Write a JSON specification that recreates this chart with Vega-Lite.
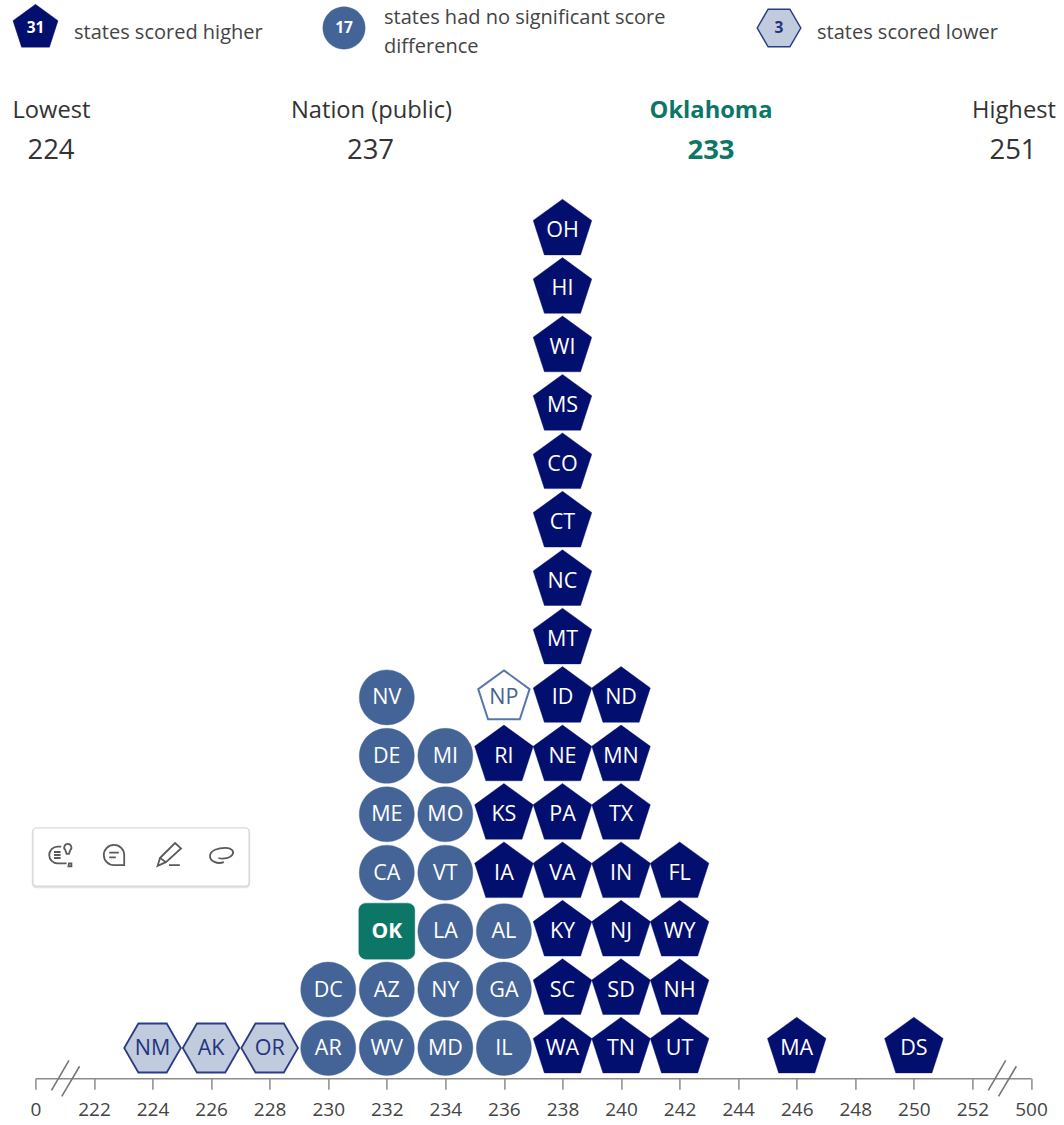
{"$schema":"https://vega.github.io/schema/vega-lite/v6.json","width":995.6,"height":1078.3,"autosize":"none","padding":{"left":35.4,"top":0,"right":33,"bottom":46.7},"background":"white","view":{"stroke":null},"config":{"font":"Open Sans"},
"datasets":{
"states":[
{"state":"NM","score":224,"row":1,"group":"lower"},{"state":"AK","score":226,"row":1,"group":"lower"},{"state":"OR","score":228,"row":1,"group":"lower"},
{"state":"AR","score":230,"row":1,"group":"same"},{"state":"DC","score":230,"row":2,"group":"same"},
{"state":"WV","score":232,"row":1,"group":"same"},{"state":"AZ","score":232,"row":2,"group":"same"},{"state":"OK","score":232,"row":3,"group":"focal"},{"state":"CA","score":232,"row":4,"group":"same"},{"state":"ME","score":232,"row":5,"group":"same"},{"state":"DE","score":232,"row":6,"group":"same"},{"state":"NV","score":232,"row":7,"group":"same"},
{"state":"MD","score":234,"row":1,"group":"same"},{"state":"NY","score":234,"row":2,"group":"same"},{"state":"LA","score":234,"row":3,"group":"same"},{"state":"VT","score":234,"row":4,"group":"same"},{"state":"MO","score":234,"row":5,"group":"same"},{"state":"MI","score":234,"row":6,"group":"same"},
{"state":"IL","score":236,"row":1,"group":"same"},{"state":"GA","score":236,"row":2,"group":"same"},{"state":"AL","score":236,"row":3,"group":"same"},{"state":"IA","score":236,"row":4,"group":"higher"},{"state":"KS","score":236,"row":5,"group":"higher"},{"state":"RI","score":236,"row":6,"group":"higher"},{"state":"NP","score":236,"row":7,"group":"nation"},
{"state":"WA","score":238,"row":1,"group":"higher"},{"state":"SC","score":238,"row":2,"group":"higher"},{"state":"KY","score":238,"row":3,"group":"higher"},{"state":"VA","score":238,"row":4,"group":"higher"},{"state":"PA","score":238,"row":5,"group":"higher"},{"state":"NE","score":238,"row":6,"group":"higher"},{"state":"ID","score":238,"row":7,"group":"higher"},{"state":"MT","score":238,"row":8,"group":"higher"},{"state":"NC","score":238,"row":9,"group":"higher"},{"state":"CT","score":238,"row":10,"group":"higher"},{"state":"CO","score":238,"row":11,"group":"higher"},{"state":"MS","score":238,"row":12,"group":"higher"},{"state":"WI","score":238,"row":13,"group":"higher"},{"state":"HI","score":238,"row":14,"group":"higher"},{"state":"OH","score":238,"row":15,"group":"higher"},
{"state":"TN","score":240,"row":1,"group":"higher"},{"state":"SD","score":240,"row":2,"group":"higher"},{"state":"NJ","score":240,"row":3,"group":"higher"},{"state":"IN","score":240,"row":4,"group":"higher"},{"state":"TX","score":240,"row":5,"group":"higher"},{"state":"MN","score":240,"row":6,"group":"higher"},{"state":"ND","score":240,"row":7,"group":"higher"},
{"state":"UT","score":242,"row":1,"group":"higher"},{"state":"NH","score":242,"row":2,"group":"higher"},{"state":"WY","score":242,"row":3,"group":"higher"},{"state":"FL","score":242,"row":4,"group":"higher"},
{"state":"MA","score":246,"row":1,"group":"higher"},{"state":"DS","score":250,"row":1,"group":"higher"}],
"breaks":[{"score":221.03},{"score":253.02}],
"badges":[{"group":"higher","slot":1,"count":31},{"group":"same","slot":2,"count":17},{"group":"lower","slot":3,"count":3}],
"legendText":[{"text":"states scored higher","slot":1,"line":2},{"text":"states had no significant score","slot":2,"line":1},{"text":"difference","slot":2,"line":3},{"text":"states scored lower","slot":3,"line":2}],
"header":[{"slot":1,"label":"Lowest","value":224,"bold":false},{"slot":2,"label":"Nation (public)","value":237,"bold":false},{"slot":3,"label":"Oklahoma","value":233,"bold":true},{"slot":4,"label":"Highest","value":251,"bold":false}],
"tools":[{"tool":"hint","slot":1},{"tool":"note","slot":2},{"tool":"pen","slot":4},{"tool":"lasso","slot":5}]
},
"layer":[
{"data":{"name":"states"},"mark":{"type":"point","filled":true,"opacity":1},
"encoding":{
"x":{"field":"score","type":"quantitative","scale":{"domain":[220,254],"nice":false,"zero":false},"axis":{"title":null,"grid":false,"values":[220,222,224,226,228,230,232,234,236,238,240,242,244,246,248,250,252,254],"labelExpr":"datum.value==220?'0':datum.value==254?'500':datum.label","tickSize":11,"tickColor":"#8c8c8c","tickWidth":1.5,"domainColor":"#8c8c8c","domainWidth":1.5,"labelFontSize":19,"labelColor":"#444444","labelFont":"Open Sans","labelPadding":11,"labelOverlap":false,"labelFlush":false}},
"y":{"field":"row","type":"quantitative","scale":{"domain":[0.4814,18.936],"nice":false,"zero":false},"axis":null},
"shape":{"field":"group","type":"nominal","legend":null,"scale":{"domain":["higher","same","lower","focal","nation"],"range":["M0,-1L.951,-.309L.588,.809L-.588,.809L-.951,-.309Z","M-.893,0A.893,.893 0 1 1 .893,0A.893,.893 0 1 1 -.893,0Z","M-.919,0L-.46,-.796L.46,-.796L.919,0L.46,.796L-.46,.796Z","M-.68,-.909L.68,-.909A.23,.23 0 0 1 .909,-.68L.909,.68A.23,.23 0 0 1 .68,.909L-.68,.909A.23,.23 0 0 1 -.909,.68L-.909,-.68A.23,.23 0 0 1 -.68,-.909Z","M0,-.877L.834,-.271L.516,.71L-.516,.71L-.834,-.271Z"]}},
"fill":{"field":"group","type":"nominal","legend":null,"scale":{"domain":["higher","same","lower","focal","nation"],"range":["#020f6e","#446498","#c0cbdd","#0c7766","#ffffff"]}},
"stroke":{"field":"group","type":"nominal","legend":null,"scale":{"domain":["higher","same","lower","focal","nation"],"range":["#020f6e","#446498","#2b3c86","#0c7766","#5578a8"]}},
"strokeWidth":{"field":"group","type":"nominal","legend":null,"scale":{"type":"ordinal","domain":["higher","same","lower","focal","nation"],"range":[0.4,0.4,1.8,0.4,2]}},
"size":{"value":3794}}},
{"data":{"name":"states"},"transform":[{"filter":"datum.state!='OK'"}],"mark":{"type":"text","fontSize":21.5,"font":"Open Sans","baseline":"middle","align":"center","dy":1},
"encoding":{
"x":{"field":"score","type":"quantitative","scale":{"domain":[220,254],"nice":false,"zero":false},"axis":null},
"y":{"field":"row","type":"quantitative","scale":{"domain":[0.4814,18.936],"nice":false,"zero":false},"axis":null},
"text":{"field":"state"},
"color":{"field":"group","type":"nominal","legend":null,"scale":{"domain":["higher","same","lower","nation"],"range":["#ffffff","#ffffff","#24337f","#446498"]}}}},
{"data":{"name":"states"},"transform":[{"filter":"datum.state=='OK'"}],"mark":{"type":"text","fontSize":21,"font":"Open Sans","fontWeight":"bold","baseline":"middle","align":"center","color":"#ffffff","dy":1},
"encoding":{
"x":{"field":"score","type":"quantitative","scale":{"domain":[220,254],"nice":false,"zero":false},"axis":null},
"y":{"field":"row","type":"quantitative","scale":{"domain":[0.4814,18.936],"nice":false,"zero":false},"axis":null},
"text":{"field":"state"}}},
{"data":{"name":"breaks"},"mark":{"type":"point","filled":false,"opacity":1,"stroke":"#777777","strokeWidth":1.6,"size":1296,"shape":"M-.78,.67L.19,-1M-.21,1L.78,-.67"},
"encoding":{
"x":{"field":"score","type":"quantitative","scale":{"domain":[220,254],"nice":false,"zero":false},"axis":null},
"y":{"datum":0.4814,"type":"quantitative","scale":{"domain":[0.4814,18.936],"nice":false,"zero":false},"axis":null}}},
{"data":{"name":"badges"},"mark":{"type":"point","filled":true,"opacity":1},
"encoding":{
"x":{"field":"slot","type":"quantitative","scale":{"domain":[1,2,3],"range":[0.1,308.6,743.6],"nice":false,"zero":false},"axis":null},
"y":{"datum":1,"type":"quantitative","scale":{"domain":[0,1],"range":[0,28],"nice":false,"zero":false},"axis":null},
"shape":{"field":"group","type":"nominal","legend":null,"scale":{"domain":["higher","same","lower"],"range":["M0,-1L.951,-.309L.588,.809L-.588,.809L-.951,-.309Z","M-.893,0A.893,.893 0 1 1 .893,0A.893,.893 0 1 1 -.893,0Z","M-.919,0L-.46,-.796L.46,-.796L.919,0L.46,.796L-.46,.796Z"]}},
"fill":{"field":"group","type":"nominal","legend":null,"scale":{"domain":["higher","same","lower"],"range":["#020f6e","#446498","#c0cbdd"]}},
"stroke":{"field":"group","type":"nominal","legend":null,"scale":{"domain":["higher","same","lower"],"range":["#020f6e","#446498","#2b3c86"]}},
"strokeWidth":{"field":"group","type":"nominal","legend":null,"scale":{"type":"ordinal","domain":["higher","same","lower"],"range":[0.4,0.4,1.5]}},
"size":{"value":2247}}},
{"data":{"name":"badges"},"mark":{"type":"text","fontSize":15.5,"font":"Open Sans","fontWeight":"bold","baseline":"middle","align":"center"},
"encoding":{
"x":{"field":"slot","type":"quantitative","scale":{"domain":[1,2,3],"range":[0.1,308.6,743.6],"nice":false,"zero":false},"axis":null},
"y":{"datum":1,"type":"quantitative","scale":{"domain":[0,1],"range":[0,28],"nice":false,"zero":false},"axis":null},
"text":{"field":"count"},
"color":{"field":"group","type":"nominal","legend":null,"scale":{"domain":["higher","same","lower"],"range":["#ffffff","#ffffff","#24337f"]}}}},
{"data":{"name":"legendText"},"mark":{"type":"text","fontSize":20,"font":"Open Sans","baseline":"middle","align":"left","color":"#444444"},
"encoding":{
"x":{"field":"slot","type":"quantitative","scale":{"domain":[1,2,3],"range":[38.6,348.6,781.6],"nice":false,"zero":false},"axis":null},
"y":{"field":"line","type":"quantitative","scale":{"domain":[1,2,3],"range":[18,33,47],"nice":false,"zero":false},"axis":null},
"text":{"field":"text"}}},
{"data":{"name":"header"},"transform":[{"filter":"!datum.bold"}],"mark":{"type":"text","fontSize":23.7,"font":"Open Sans","baseline":"middle","align":"center","color":"#333333"},
"encoding":{
"x":{"field":"slot","type":"quantitative","scale":{"domain":[1,2,3,4],"range":[16.1,336.1,675.6,978.6],"nice":false,"zero":false},"axis":null},
"y":{"datum":1,"type":"quantitative","scale":{"domain":[0,1],"range":[0,110.5],"nice":false,"zero":false},"axis":null},
"text":{"field":"label"}}},
{"data":{"name":"header"},"transform":[{"filter":"datum.bold"}],"mark":{"type":"text","fontSize":23.7,"font":"Open Sans","fontWeight":"bold","baseline":"middle","align":"center","color":"#0c7766"},
"encoding":{
"x":{"field":"slot","type":"quantitative","scale":{"domain":[1,2,3,4],"range":[16.1,336.1,675.6,978.6],"nice":false,"zero":false},"axis":null},
"y":{"datum":1,"type":"quantitative","scale":{"domain":[0,1],"range":[0,110.5],"nice":false,"zero":false},"axis":null},
"text":{"field":"label"}}},
{"data":{"name":"header"},"transform":[{"filter":"!datum.bold"}],"mark":{"type":"text","fontSize":27.5,"font":"Open Sans","baseline":"middle","align":"center","color":"#333333"},
"encoding":{
"x":{"field":"slot","type":"quantitative","scale":{"domain":[1,2,3,4],"range":[15.6,335.1,675.6,977.6],"nice":false,"zero":false},"axis":null},
"y":{"datum":1,"type":"quantitative","scale":{"domain":[0,1],"range":[0,150.5],"nice":false,"zero":false},"axis":null},
"text":{"field":"value"}}},
{"data":{"name":"header"},"transform":[{"filter":"datum.bold"}],"mark":{"type":"text","fontSize":27.5,"font":"Open Sans","fontWeight":"bold","baseline":"middle","align":"center","color":"#0c7766"},
"encoding":{
"x":{"field":"slot","type":"quantitative","scale":{"domain":[1,2,3,4],"range":[15.6,335.1,675.6,977.6],"nice":false,"zero":false},"axis":null},
"y":{"datum":1,"type":"quantitative","scale":{"domain":[0,1],"range":[0,150.5],"nice":false,"zero":false},"axis":null},
"text":{"field":"value"}}},
{"data":{"values":[{"panel":"shadow"}]},"mark":{"type":"point","filled":true,"opacity":1,"fill":"#ececec","stroke":"#e4e4e4","strokeWidth":2.5,"size":46656,"shape":"M-.97,-.269L.97,-.269A.03,.03 0 0 1 1,-.239L1,.239A.03,.03 0 0 1 .97,.269L-.97,.269A.03,.03 0 0 1 -1,.239L-1,-.239A.03,.03 0 0 1 -.97,-.269Z"},
"encoding":{
"x":{"datum":1,"type":"quantitative","scale":{"domain":[0,1],"range":[0,105.6],"nice":false,"zero":false},"axis":null},
"y":{"datum":1,"type":"quantitative","scale":{"domain":[0,1],"range":[0,858],"nice":false,"zero":false},"axis":null}}},
{"data":{"values":[{"panel":"tools"}]},"mark":{"type":"point","filled":true,"opacity":1,"fill":"#ffffff","stroke":"#d2d2d2","strokeWidth":1,"size":46656,"shape":"M-.97,-.269L.97,-.269A.03,.03 0 0 1 1,-.239L1,.239A.03,.03 0 0 1 .97,.269L-.97,.269A.03,.03 0 0 1 -1,.239L-1,-.239A.03,.03 0 0 1 -.97,-.269Z"},
"encoding":{
"x":{"datum":1,"type":"quantitative","scale":{"domain":[0,1],"range":[0,105.6],"nice":false,"zero":false},"axis":null},
"y":{"datum":1,"type":"quantitative","scale":{"domain":[0,1],"range":[0,857],"nice":false,"zero":false},"axis":null}}},
{"data":{"name":"tools"},"mark":{"type":"point","filled":false,"opacity":1,"strokeWidth":1.8,"size":576},
"encoding":{
"x":{"field":"slot","type":"quantitative","scale":{"domain":[1,2,4,5],"range":[24.6,78.6,133.6,186.6],"nice":false,"zero":false},"axis":null},
"y":{"datum":1,"type":"quantitative","scale":{"domain":[0,1],"range":[0,855],"nice":false,"zero":false},"axis":null},
"shape":{"field":"tool","type":"nominal","legend":null,"scale":{"domain":["hint","note","pen","lasso"],"range":["M.1,-.7L-.2,-.7A.7,.7 0 0 0 -.2,.7L.55,.7M-.5,-.25L.05,-.25M-.5,0L.05,0M-.5,.25L.05,.25M.45,-.4A.3,.3 0 1 1 .85,-.4L.75,-.1L.55,-.1ZM.75,.7L.95,.7L.95,.95L.7,.95Z","M0,-.85A.85,.85 0 1 0 0,.85L.85,.85L.85,0A.85,.85 0 0 0 0,-.85ZM-.4,-.2L.4,-.2M-.4,.2L.15,.2","M.5,-1L1,-.55L-.25,.6L-.75,.25ZM-.75,.25L-.95,.9L-.25,.6M0,.85L.9,.85","M.15,.6C-.4,.8 -1,.5 -1,.1C-1,-.4 -.3,-.6 .3,-.6C.8,-.6 1,-.3 .9,-.1C.7,.3 .1,.35 -.3,.25"]}},
"stroke":{"value":"#5a5a5a"}}}
],
"resolve":{"scale":{"x":"independent","y":"independent","shape":"independent","fill":"independent","stroke":"independent","color":"independent","strokeWidth":"independent"}}}
